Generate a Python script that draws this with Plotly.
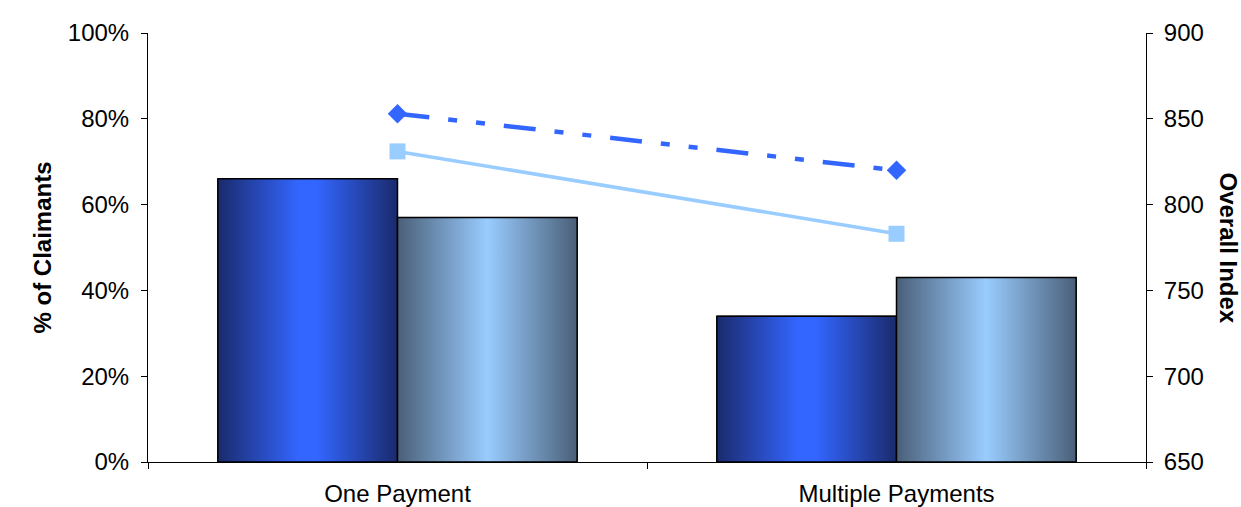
import plotly.graph_objects as go

# ---- data ----
categories = ["One Payment", "Multiple Payments"]
claimants_dark = [66, 34]      # % of Claimants, dark blue bars
claimants_light = [57, 43]     # % of Claimants, light blue bars
index_dark = [853, 820]        # Overall Index, dark blue dash-dot line
index_light = [831, 783]       # Overall Index, light blue solid line
pct_ticks = [0, 20, 40, 60, 80, 100]
pct_labels = ["0%", "20%", "40%", "60%", "80%", "100%"]
index_ticks = [650, 700, 750, 800, 850, 900]

# ---- styling ----
FONT = "Liberation Sans, Arial, sans-serif"
BAR_W = 0.36
DARK_SCALE = [[0, "#1a2a6c"], [0.45, "#3366ff"], [0.55, "#3366ff"], [1, "#1a2a6c"]]
LIGHT_SCALE = [[0, "#4a5f78"], [0.5, "#99ccff"], [1, "#4a5f78"]]

xpos = list(range(len(categories)))

fig = go.Figure()

# base bars (semantic) - solid fill under the gradient overlay
fig.add_trace(go.Bar(x=xpos, y=claimants_dark, width=BAR_W, offset=-BAR_W,
                     marker=dict(color="#2b50c8", line=dict(color="black", width=1)),
                     name="Dark", showlegend=False, hoverinfo="skip"))
fig.add_trace(go.Bar(x=xpos, y=claimants_light, width=BAR_W, offset=0,
                     marker=dict(color="#7fa8d8", line=dict(color="black", width=1)),
                     name="Light", showlegend=False, hoverinfo="skip"))

# gradient overlays for each bar
def grad_bar(xc, val, off, scale):
    x0 = xc + off
    x1 = x0 + BAR_W
    fig.add_trace(go.Scatter(
        x=[x0, x1, x1, x0, x0], y=[0, 0, val, val, 0],
        mode="lines", fill="toself",
        fillgradient=dict(type="horizontal", colorscale=scale),
        line=dict(color="black", width=1.5),
        showlegend=False, hoverinfo="skip"))

for i, xc in enumerate(xpos):
    grad_bar(xc, claimants_dark[i], -BAR_W, DARK_SCALE)
    grad_bar(xc, claimants_light[i], 0, LIGHT_SCALE)

# lines on secondary axis
fig.add_trace(go.Scatter(x=xpos, y=index_dark, yaxis="y2", mode="lines+markers",
                         line=dict(color="#3366ff", width=4.5,
                                   dash="32px,19px,9px,19px,9px,19px"),
                         marker=dict(symbol="diamond", size=15, color="#3366ff"),
                         showlegend=False))
fig.add_trace(go.Scatter(x=xpos, y=index_light, yaxis="y2", mode="lines+markers",
                         line=dict(color="#99ccff", width=3.5),
                         marker=dict(symbol="square", size=16, color="#99ccff"),
                         showlegend=False))

fig.update_layout(
    width=1241, height=507,
    margin=dict(l=148, r=95, t=33, b=45),
    plot_bgcolor="white", paper_bgcolor="white",
    font=dict(family=FONT, size=24, color="black"),
    barmode="overlay",
    xaxis=dict(range=[-0.5, 1.5], tickvals=xpos, ticktext=categories, ticks="",
               showline=True, linecolor="black", linewidth=1, showgrid=False,
               zeroline=False, tickfont=dict(size=24), ticklabelstandoff=10,
               automargin=False,
               minor=dict(tickvals=[-0.5, 0.5, 1.5], ticks="outside", ticklen=6,
                          tickcolor="black", tickwidth=1)),
    yaxis=dict(range=[0, 100], tickvals=pct_ticks, ticktext=pct_labels,
               showline=True, linecolor="black", linewidth=1, showgrid=False,
               zeroline=False, ticks="outside", ticklen=6, tickcolor="black",
               tickfont=dict(size=24), ticklabelstandoff=7, automargin=False),
    yaxis2=dict(range=[650, 900], tickvals=index_ticks, overlaying="y", side="right",
                showline=True, linecolor="black", linewidth=1, showgrid=False,
                zeroline=False, ticks="outside", ticklen=6, tickcolor="black",
                tickfont=dict(size=24), ticklabelstandoff=6, automargin=False),
    annotations=[
        dict(text="<b>% of Claimants</b>", xref="paper", yref="paper",
             x=-0.1062, y=0.5, textangle=-90, showarrow=False,
             font=dict(size=24), xanchor="center", yanchor="middle"),
        dict(text="<b>Overall Index</b>", xref="paper", yref="paper",
             x=1.0822, y=0.5, textangle=90, showarrow=False,
             font=dict(size=24), xanchor="center", yanchor="middle"),
    ],
)

fig.write_html("out.html")
